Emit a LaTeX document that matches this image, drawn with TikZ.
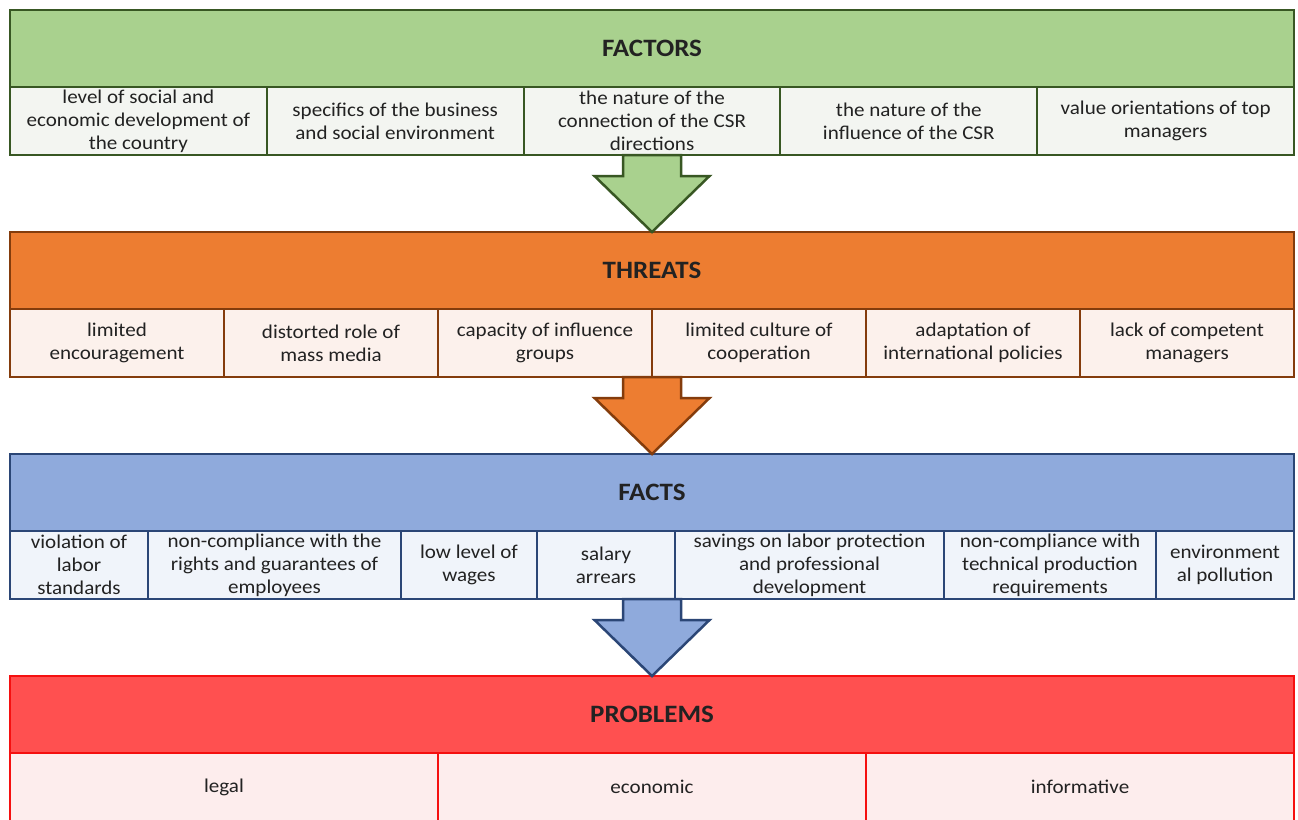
\documentclass[tikz,border=0pt]{standalone}
\usepackage{fontspec}
\setmainfont{Carlito}[FakeStretch=1.08]
\usepackage{xcolor}
\usepackage{tikz}
\usetikzlibrary{calc}
\usetikzlibrary{positioning}

\definecolor{factorsline}{HTML}{385723}
\definecolor{factorsfill}{HTML}{A9D18E}
\definecolor{factorscell}{HTML}{F3F5F1}
\definecolor{threatsline}{HTML}{843C0C}
\definecolor{threatsfill}{HTML}{ED7D31}
\definecolor{threatscell}{HTML}{FCF1EC}
\definecolor{factsline}{HTML}{2B4676}
\definecolor{factsfill}{HTML}{8FAADC}
\definecolor{factscell}{HTML}{F0F4FA}
\definecolor{problemsline}{HTML}{F51010}
\definecolor{problemsfill}{HTML}{FF5050}
\definecolor{problemscell}{HTML}{FDEDED}
\definecolor{textgray}{HTML}{222222}

\begin{document}
\begin{tikzpicture}[x=1pt,y=-1pt,
	band/.style 2 args={draw=#1,fill=#2,line width=2.5pt,outer sep=0pt,inner sep=0pt,minimum width=1284pt,minimum height=77pt,text=textgray,font=\fontsize{25}{30}\selectfont\bfseries},
	cell/.style 2 args={draw=#1,fill=#2,line width=2pt,outer sep=0pt,inner sep=0pt,minimum height=68pt,align=center,text=textgray,font=\fontsize{19.5}{23}\selectfont},
	bigarrow/.style 2 args={draw=#1,fill=#2,line width=2.5pt,line join=miter}]
	\useasboundingbox (0,0) rectangle (1298,819);
	\clip (0,0) rectangle (1298,819);
	\fill[white] (0,0) rectangle (1298,819);
	\node[band={factorsline}{factorsfill},anchor=north west] (factors) at (10,10) {FACTORS};
	\node[cell={factorsline}{factorscell},minimum width=256.8pt,anchor=north west] (fa1) at (factors.south west) {level of social and\\economic development of\\the country};
	\node[cell={factorsline}{factorscell},minimum width=256.8pt,right=0pt of fa1] (fa2) {specifics of the business\\and social environment};
	\node[cell={factorsline}{factorscell},minimum width=256.8pt,right=0pt of fa2] (fa3) {the nature of the\\connection of the CSR\\directions};
	\node[cell={factorsline}{factorscell},minimum width=256.8pt,right=0pt of fa3] (fa4) {the nature of the\\influence of the CSR};
	\node[cell={factorsline}{factorscell},minimum width=256.8pt,right=0pt of fa4] (fa5) {value orientations of top\\managers};
	\node[band={threatsline}{threatsfill},below=145pt of factors] (threats) {THREATS};
	\node[cell={threatsline}{threatscell},minimum width=214pt,anchor=north west] (th1) at (threats.south west) {limited\\encouragement};
	\node[cell={threatsline}{threatscell},minimum width=214pt,right=0pt of th1] (th2) {distorted role of\\mass media};
	\node[cell={threatsline}{threatscell},minimum width=214pt,right=0pt of th2] (th3) {capacity of influence\\groups};
	\node[cell={threatsline}{threatscell},minimum width=214pt,right=0pt of th3] (th4) {limited culture of\\cooperation};
	\node[cell={threatsline}{threatscell},minimum width=214pt,right=0pt of th4] (th5) {adaptation of\\international policies};
	\node[cell={threatsline}{threatscell},minimum width=214pt,right=0pt of th5] (th6) {lack of competent\\managers};
	\node[band={factsline}{factsfill},below=145pt of threats] (facts) {FACTS};
	\node[cell={factsline}{factscell},minimum width=138pt,anchor=north west] (fc1) at (facts.south west) {violation of\\labor\\standards};
	\node[cell={factsline}{factscell},minimum width=253pt,right=0pt of fc1] (fc2) {non-compliance with the\\rights and guarantees of\\employees};
	\node[cell={factsline}{factscell},minimum width=136pt,right=0pt of fc2] (fc3) {low level of\\wages};
	\node[cell={factsline}{factscell},minimum width=138pt,right=0pt of fc3] (fc4) {salary\\arrears};
	\node[cell={factsline}{factscell},minimum width=269pt,right=0pt of fc4] (fc5) {savings on labor protection\\and professional\\development};
	\node[cell={factsline}{factscell},minimum width=212pt,right=0pt of fc5] (fc6) {non-compliance with\\technical production\\requirements};
	\node[cell={factsline}{factscell},minimum width=138pt,right=0pt of fc6] (fc7) {environment\\al pollution};
	\node[band={problemsline}{problemsfill},below=145pt of facts] (problems) {PROBLEMS};
	\node[cell={problemsline}{problemscell},minimum width=428pt,anchor=north west] (pr1) at (problems.south west) {legal};
	\node[cell={problemsline}{problemscell},minimum width=428pt,right=0pt of pr1] (pr2) {economic};
	\node[cell={problemsline}{problemscell},minimum width=428pt,right=0pt of pr2] (pr3) {informative};
	\coordinate (fa out) at (factors.south |- fa1.south);
	\coordinate (th out) at (threats.south |- th1.south);
	\coordinate (fc out) at (facts.south |- fc1.south);
	\draw[bigarrow={factorsline}{factorsfill}] ($(fa out)+(-29,0)$) -- ++(0,21) -- ++(-28.5,0) -- (threats.north) -- ($(fa out)+(57.5,21)$) -- ++(-28.5,0) -- ++(0,-21) -- cycle;
	\draw[bigarrow={threatsline}{threatsfill}] ($(th out)+(-29,0)$) -- ++(0,21) -- ++(-28.5,0) -- (facts.north) -- ($(th out)+(57.5,21)$) -- ++(-28.5,0) -- ++(0,-21) -- cycle;
	\draw[bigarrow={factsline}{factsfill}] ($(fc out)+(-29,0)$) -- ++(0,21) -- ++(-28.5,0) -- (problems.north) -- ($(fc out)+(57.5,21)$) -- ++(-28.5,0) -- ++(0,-21) -- cycle;
\end{tikzpicture}
\end{document}
